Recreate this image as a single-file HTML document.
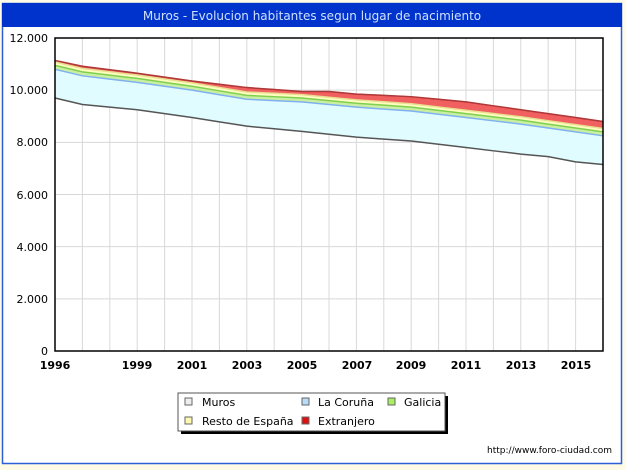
<!DOCTYPE html>
<html><head><meta charset="utf-8"><style>
body{margin:0;background:#fffbe6;}
svg{display:block;font-family:"DejaVu Sans","Liberation Sans",sans-serif;}
</style></head><body>
<svg width="626" height="470" viewBox="0 0 626 470" xmlns="http://www.w3.org/2000/svg">
<rect x="0" y="0" width="626" height="470" fill="#fffbe6"/>
<rect x="2.5" y="3.5" width="619" height="460" fill="#fff" stroke="#2a5fd8" stroke-width="1.5"/>
<rect x="2" y="3" width="620" height="24" fill="#0033cc"/>
<text x="312" y="20" font-size="12" fill="#cfe0ff" text-anchor="middle">Muros - Evolucion habitantes segun lugar de nacimiento</text>
<g id="grid" stroke="#d8d8d8" stroke-width="1"></g>
<g id="areas"></g>
<rect x="55" y="38" width="548" height="313" fill="none" stroke="#000" stroke-width="1.5"/>
<g font-size="11" fill="#000" text-anchor="end">
<text x="48" y="42">12.000</text><text x="48" y="94">10.000</text><text x="48" y="146">8.000</text>
<text x="48" y="199">6.000</text><text x="48" y="251">4.000</text><text x="48" y="303">2.000</text><text x="48" y="355">0</text>
</g>
<g font-size="11" font-weight="bold" fill="#000" text-anchor="middle">
<text x="55" y="369">1996</text><text x="137" y="369">1999</text><text x="192" y="369">2001</text><text x="247" y="369">2003</text>
<text x="302" y="369">2005</text><text x="357" y="369">2007</text><text x="411" y="369">2009</text><text x="466" y="369">2011</text>
<text x="521" y="369">2013</text><text x="576" y="369">2015</text>
</g>
<rect x="181" y="396" width="267" height="38" fill="#000"/>
<rect x="178" y="393" width="267" height="38" fill="#fff" stroke="#555"/>
<g font-size="11" fill="#000">
<rect x="185" y="398" width="7" height="7" fill="#eee" stroke="#666"/><text x="202" y="406">Muros</text>
<rect x="302" y="398" width="7" height="7" fill="#b8dcf8" stroke="#666"/><text x="318" y="406">La Coruña</text>
<rect x="388" y="398" width="7" height="7" fill="#a8f060" stroke="#666"/><text x="404" y="406">Galicia</text>
<rect x="185" y="417" width="7" height="7" fill="#fff8b0" stroke="#666"/><text x="202" y="425">Resto de España</text>
<rect x="302" y="417" width="7" height="7" fill="#e01010" stroke="#666"/><text x="318" y="425">Extranjero</text>
</g>
<text x="612" y="453" font-size="9" text-anchor="end" fill="#000">http://www.foro-ciudad.com</text>
</svg>
<script>
var ns="http://www.w3.org/2000/svg";
function X(i){return 55+i*27.4;}
function Y(v){return 351-v*313/12000;}
var g=document.getElementById("grid");
for(var i=1;i<20;i++){var l=document.createElementNS(ns,"line");l.setAttribute("x1",X(i));l.setAttribute("x2",X(i));l.setAttribute("y1",38);l.setAttribute("y2",351);g.appendChild(l);}
for(var v=2000;v<12000;v+=2000){var l=document.createElementNS(ns,"line");l.setAttribute("x1",55);l.setAttribute("x2",603);l.setAttribute("y1",Y(v));l.setAttribute("y2",Y(v));g.appendChild(l);}
function interp(k){var r=[];var yrs=Object.keys(k).map(Number);for(var y=1996;y<=2016;y++){for(var j=0;j<yrs.length-1;j++){if(y>=yrs[j]&&y<=yrs[j+1]){var t=(y-yrs[j])/(yrs[j+1]-yrs[j]);r.push(k[yrs[j]]+t*(k[yrs[j+1]]-k[yrs[j]]));break;}}}return r;}
var muros=interp({1996:9700,1997:9450,1999:9250,2001:8950,2003:8620,2005:8420,2007:8200,2009:8050,2011:7800,2013:7550,2014:7450,2015:7250,2016:7150});
var cor=interp({1996:10800,1997:10550,1999:10300,2001:10000,2003:9650,2005:9550,2007:9350,2009:9200,2011:8950,2013:8700,2015:8400,2016:8250});
var gal=cor.map(function(v){return v+150;});
var res=gal.map(function(v){return v+130;});
var tot=interp({1996:11050,1999:10650,2001:10350,2003:10100,2005:9950,2006:9950,2007:9850,2009:9750,2011:9550,2013:9250,2015:8950,2016:8800});
tot=tot.map(function(v,i){return Math.max(v,res[i]+60);});
var a=document.getElementById("areas");
function band(top,bot,fill,stroke){var d="M";for(var i=0;i<21;i++)d+=X(i)+","+Y(top[i])+" L";for(var i=20;i>=0;i--)d+=X(i)+","+Y(bot[i])+(i?" L":" Z");var p=document.createElementNS(ns,"path");p.setAttribute("d",d);p.setAttribute("fill",fill);a.appendChild(p);
var s="M";for(var i=0;i<21;i++)s+=X(i)+","+Y(top[i])+(i<20?" L":"");var q=document.createElementNS(ns,"path");q.setAttribute("d",s);q.setAttribute("fill","none");q.setAttribute("stroke",stroke);q.setAttribute("stroke-width","1.5");a.appendChild(q);}
band(tot,res,"#f06060","#d02020");
band(res,gal,"#fffcc0","#e8e090");
band(gal,cor,"#c8f0a0","#80d050");
band(cor,muros,"#e0fcff","#80b0f0");
var s="M";for(var i=0;i<21;i++)s+=X(i)+","+Y(muros[i])+(i<20?" L":"");var q=document.createElementNS(ns,"path");q.setAttribute("d",s);q.setAttribute("fill","none");q.setAttribute("stroke","#555");q.setAttribute("stroke-width","1.5");a.appendChild(q);
var s2="M";for(var i=0;i<21;i++)s2+=X(i)+","+Y(tot[i])+(i<20?" L":"");var q2=document.createElementNS(ns,"path");q2.setAttribute("d",s2);q2.setAttribute("fill","none");q2.setAttribute("stroke","#a04040");q2.setAttribute("stroke-width","1");a.appendChild(q2);
</script>
</body></html>
